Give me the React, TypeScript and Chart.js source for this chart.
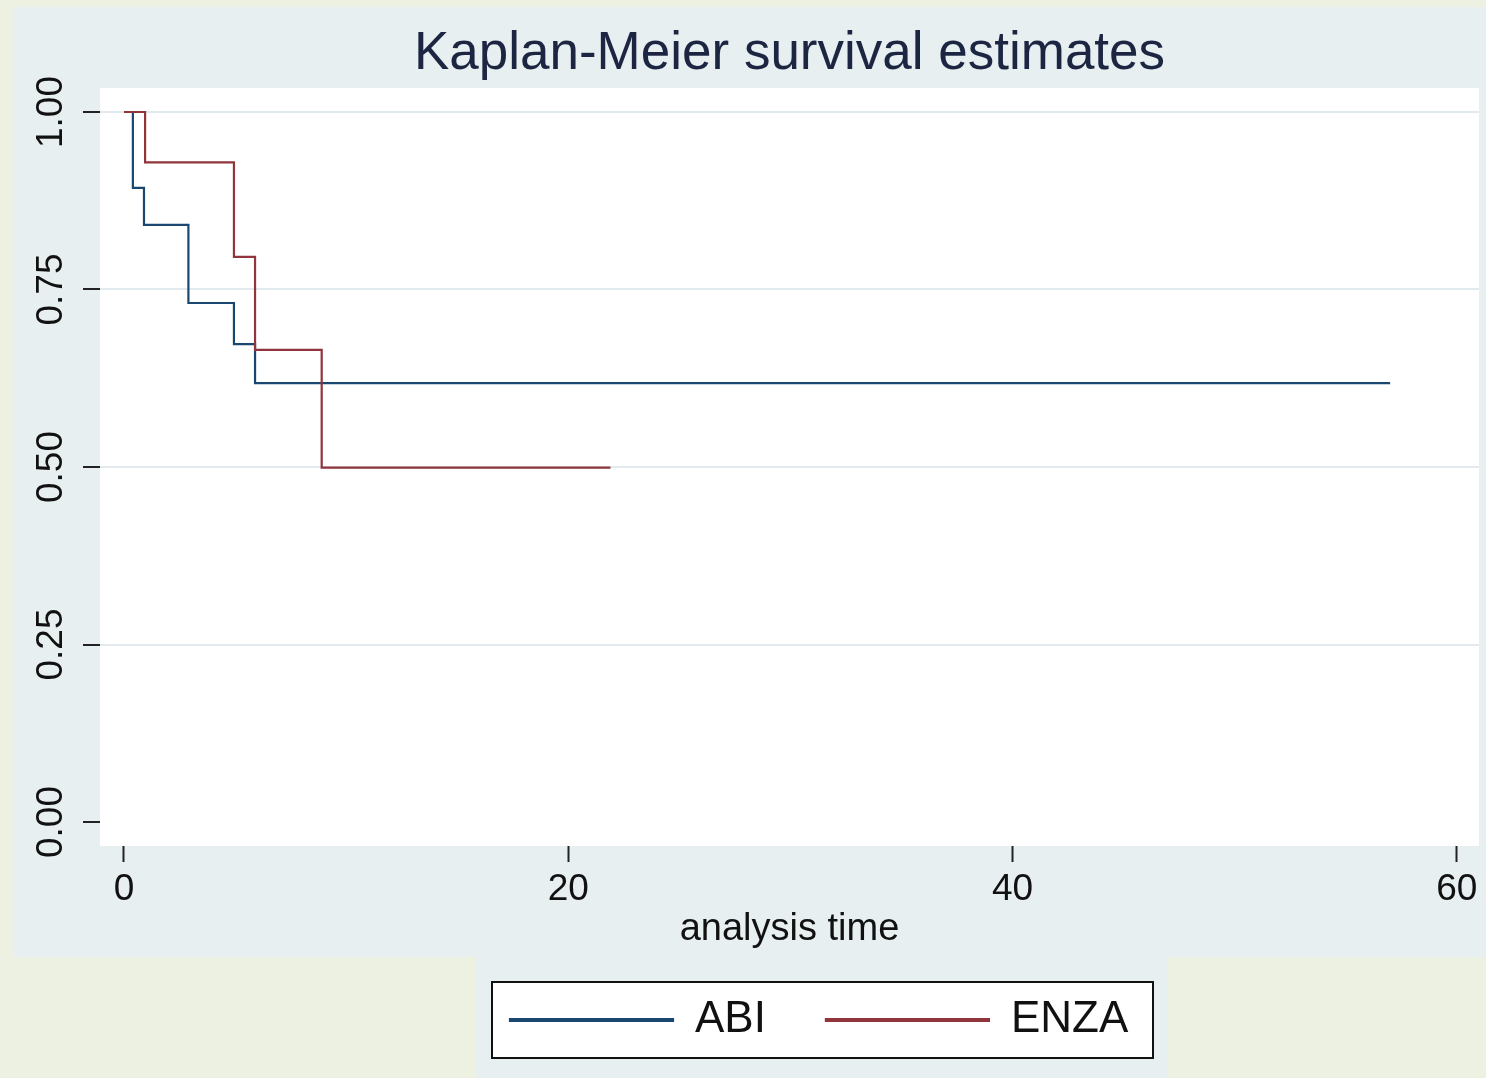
import React, { useEffect, useRef } from 'react';
import { Chart, registerables } from 'chart.js';

Chart.register(...registerables);

const titleText = 'Kaplan-Meier survival estimates';
const xAxisLabel = 'analysis time';
const seriesNames = ['ABI', 'ENZA'];
const seriesColors = ['#1a476f', '#90353b'];

// Kaplan-Meier step points (time of event, survival after event)
const abiTime = [0, 0.4, 0.9, 2.9, 4.95, 5.9, 57.0];
const abiSurv = [1, 0.893, 0.841, 0.731, 0.673, 0.618, 0.618];
const enzaTime = [0, 0.95, 4.95, 5.9, 8.9, 21.9];
const enzaSurv = [1, 0.929, 0.796, 0.665, 0.499, 0.499];

const xTicks = [0, 20, 40, 60];
const yTicks = [0, 0.25, 0.5, 0.75, 1];

const FONT = "'Liberation Sans', Arial, Helvetica, sans-serif";

export default function App() {
  const ref = useRef<HTMLCanvasElement>(null);

  useEffect(() => {
    const prevMargin = document.body.style.margin;
    document.body.style.margin = '0';
    const canvas = ref.current;
    if (!canvas) return;

    const stataPlugin = {
      id: 'stataBackground',
      afterLayout(chart: any) {
        const lg = chart.legend;
        if (!lg || !lg.lineWidths) return;
        const pad = lg.options.labels.padding;
        const cur = (lg.left + pad + lg.right - lg.lineWidths[0]) / 2;
        const dx = 510 - cur;
        lg.left += dx;
        lg.right += dx;
      },
      beforeDraw(chart: any) {
        const ctx = chart.ctx;
        const { left, top, right, bottom } = chart.chartArea;
        ctx.save();
        ctx.fillStyle = '#edf1e1';
        ctx.fillRect(0, 0, chart.width, chart.height);
        ctx.fillStyle = '#e8eff1';
        ctx.fillRect(14, 7, chart.width - 14, 950);
        ctx.fillRect(476, 956, 692, chart.height - 956);
        ctx.fillStyle = '#ffffff';
        ctx.fillRect(left, top, right - left, bottom - top);
        ctx.fillRect(492, 982, 661, 76);
        ctx.strokeStyle = '#111111';
        ctx.lineWidth = 2;
        ctx.strokeRect(492, 982, 661, 76);
        ctx.restore();
      },
    };

    const chart = new Chart(canvas, {
      type: 'line',
      data: {
        datasets: [
          {
            label: seriesNames[0],
            data: abiTime.map((t, i) => ({ x: t, y: abiSurv[i] })),
            borderColor: seriesColors[0],
            backgroundColor: seriesColors[0],
            borderWidth: 2.2,
            pointRadius: 0,
            stepped: true,
            fill: false,
            order: 1,
          },
          {
            label: seriesNames[1],
            data: enzaTime.map((t, i) => ({ x: t, y: enzaSurv[i] })),
            borderColor: seriesColors[1],
            backgroundColor: seriesColors[1],
            borderWidth: 2.2,
            pointRadius: 0,
            stepped: true,
            fill: false,
            order: 0,
          },
        ],
      },
      options: {
        responsive: false,
        maintainAspectRatio: false,
        animation: false,
        devicePixelRatio: 1,
        events: [],
        layout: { padding: { left: 14, right: 7, top: 0, bottom: 26 } },
        scales: {
          x: {
            type: 'linear',
            min: -1.08,
            max: 61.0,
            afterBuildTicks: (s: any) => {
              s.ticks = xTicks.map((v) => ({ value: v }));
            },
            afterFit: (s: any) => {
              s.height = 92;
            },
            grid: {
              drawOnChartArea: false,
              drawTicks: true,
              tickLength: 16,
              tickColor: '#222222',
              tickWidth: 2,
            },
            border: { display: false },
            ticks: {
              font: { family: FONT, size: 37 },
              color: '#111111',
              padding: 6,
              maxRotation: 0,
              autoSkip: false,
            },
            title: {
              display: true,
              text: xAxisLabel,
              font: { family: FONT, size: 38 },
              color: '#111111',
              padding: { top: 0, bottom: -14 },
            },
          },
          y: {
            type: 'linear',
            min: -0.0338,
            max: 1.0338,
            afterBuildTicks: (s: any) => {
              s.ticks = yTicks.map((v) => ({ value: v }));
            },
            afterFit: (s: any) => {
              s.width = 86;
            },
            grid: {
              color: (c: any) => (c.tick && c.tick.value === 0 ? 'rgba(0,0,0,0)' : '#e1eaee'),
              lineWidth: 2,
              drawTicks: true,
              tickLength: 17,
              tickColor: '#222222',
              tickWidth: 2,
            },
            border: { display: false },
            ticks: {
              minRotation: 90,
              maxRotation: 90,
              crossAlign: 'center',
              padding: -4.5,
              font: { family: FONT, size: 37 },
              color: '#111111',
              autoSkip: false,
              callback: (v: any) => Number(v).toFixed(2),
            },
          },
        },
        plugins: {
          title: {
            display: true,
            fullSize: false,
            text: titleText,
            font: { family: FONT, size: 53, weight: 'normal' },
            color: '#1c2541',
            padding: { top: 23, bottom: 1.4 },
          },
          legend: {
            display: true,
            position: 'bottom',
            labels: {
              boxWidth: 163,
              boxHeight: 2,
              padding: 60,
              font: { family: FONT, size: 44 },
              color: '#111111',
              sort: (a: any, b: any) => a.datasetIndex - b.datasetIndex,
            },
          },
          tooltip: { enabled: false },
        },
      },
      plugins: [stataPlugin],
    } as any);

    return () => {
      chart.destroy();
      document.body.style.margin = prevMargin;
    };
  }, []);

  return (
    <div style={{ position: 'absolute', left: 0, top: 0, width: 1486, height: 1078 }}>
      <canvas ref={ref} width={1486} height={1078} style={{ display: 'block' }} />
    </div>
  );
}
